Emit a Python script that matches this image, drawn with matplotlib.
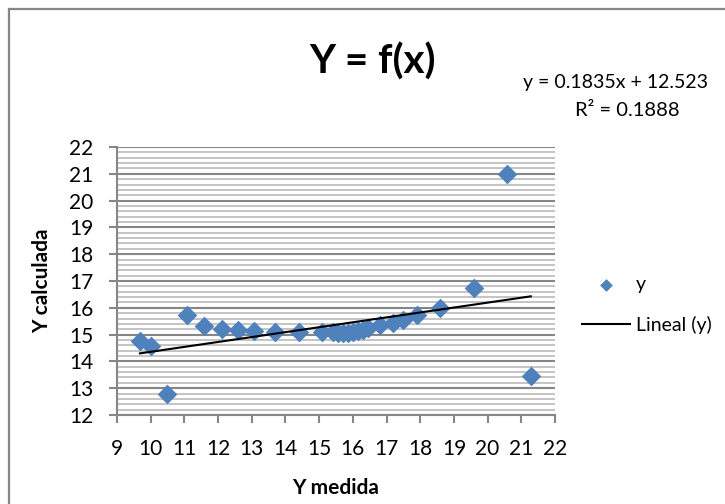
import numpy as np
import matplotlib
matplotlib.use('Agg')
import matplotlib.pyplot as plt
from matplotlib.lines import Line2D
from matplotlib.ticker import MultipleLocator

plt.rcParams['font.family'] = ['Lato', 'DejaVu Sans']

# datos
y_medida = [9.68, 10.0, 10.47, 11.09, 11.59, 12.11, 12.6, 13.07, 13.69, 14.4,
            15.09, 15.4, 15.55, 15.7, 15.85, 16.0, 16.15, 16.3, 16.45,
            16.8, 17.2, 17.5, 17.89, 18.58, 19.6, 20.58, 21.28]
y_calculada = [14.77, 14.57, 12.78, 15.73, 15.33, 15.21, 15.17, 15.15, 15.09, 15.11,
               15.11, 15.08, 15.05, 15.05, 15.06, 15.08, 15.12, 15.18, 15.25,
               15.36, 15.42, 15.55, 15.75, 16.0, 16.73, 20.99, 13.45]

# linea de tendencia (segun la ecuacion mostrada)
pendiente = 0.1835
ordenada = 12.523
r2 = 0.1888

x_ticks = list(range(9, 23))
y_ticks = list(range(12, 23))

azul = '#4F81BD'
gris = '#868686'

fig = plt.figure(figsize=(7.25, 5.04), dpi=100, facecolor='white')
ax = fig.add_axes([117 / 725, 1 - 415 / 504, (555 - 117) / 725, (415 - 147) / 504])

ax.scatter(y_medida, y_calculada, marker='D', s=100, color=azul,
           linewidths=0, zorder=3, label='y')

xt = np.array([min(y_medida), max(y_medida)])
ax.plot(xt, pendiente * xt + ordenada, color='black', linewidth=1.5,
        zorder=4, label='Lineal (y)')

ax.set_xlim(9, 22)
ax.set_ylim(12, 22)
ax.set_xticks(x_ticks)
ax.set_yticks(y_ticks)
ax.yaxis.set_minor_locator(MultipleLocator(0.2))
ax.grid(which='major', axis='y', color=gris, linewidth=1.5)
ax.grid(which='minor', axis='y', color='#BFBFBF', linewidth=1.3)
ax.set_axisbelow(True)

for s in ['top', 'right']:
    ax.spines[s].set_visible(False)
for s in ['left', 'bottom']:
    ax.spines[s].set_color(gris)
    ax.spines[s].set_linewidth(1.5)

ax.tick_params(axis='both', which='major', direction='out', length=6,
               width=1.5, color=gris, labelsize=15, pad=11)
ax.tick_params(axis='y', which='minor', length=0)

ax.set_xlabel('Y medida', fontsize=15, fontweight='bold', labelpad=14)
ax.set_ylabel('Y calculada', fontsize=15, fontweight='bold', labelpad=12)

fig.text(372 / 725, 1 - 62 / 504, 'Y = f(x)', fontsize=29, fontweight='bold',
         ha='center', va='center')
fig.text(523 / 725, 1 - 88 / 504, 'y = %.4fx + %.3f' % (pendiente, ordenada),
         fontsize=14, ha='left', va='baseline')
fig.text(627 / 725, 1 - 116 / 504, 'R² = %.4f' % r2,
         fontsize=14.5, ha='center', va='baseline')

fig.legend(loc='upper left', bbox_to_anchor=(572 / 725, 1 - 266 / 504),
           frameon=False, fontsize=14, labelspacing=1.2, handlelength=2.5,
           handletextpad=0.3, borderpad=0, markerscale=0.65)

# marco del grafico
fig.add_artist(Line2D([9 / 725, 9 / 725], [0, 1 - 9 / 504], color=gris, linewidth=1.6))
fig.add_artist(Line2D([9 / 725, 1], [1 - 9 / 504, 1 - 9 / 504], color=gris, linewidth=1.6))

fig.savefig('out.png', dpi=100, facecolor='white')
